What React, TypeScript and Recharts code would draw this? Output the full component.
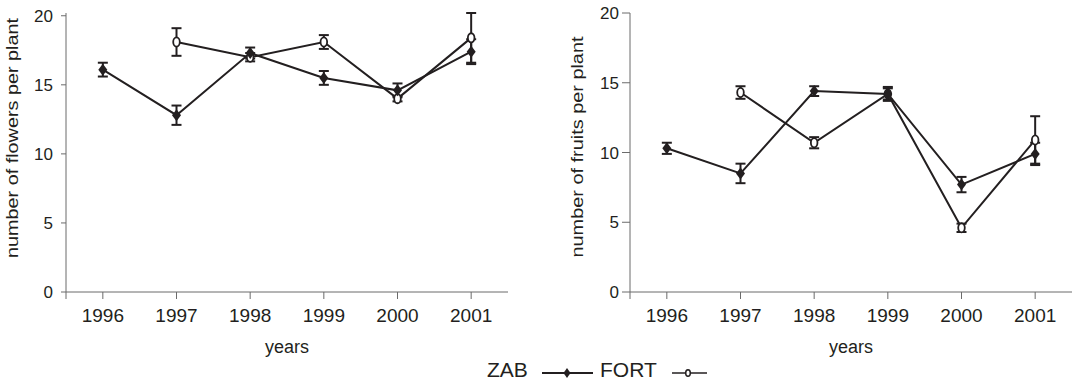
import { ErrorBar, Line, LineChart, XAxis, YAxis } from "recharts";

const years = [1996, 1997, 1998, 1999, 2000, 2001];
const xTicks = [1995.5, 1996, 1997, 1998, 1999, 2000, 2001];
const yTicks = [0, 5, 10, 15, 20];

const flowersZab = [16.1, 12.8, 17.3, 15.5, 14.6, 17.4];
const flowersZabErr = [0.5, 0.7, 0.4, 0.5, 0.5, 0.9];
const flowersFort = [null, 18.1, 17.0, 18.1, 14.0, 18.4];
const flowersFortErr = [null, 1.0, 0.3, 0.5, 0.2, 1.8];

const fruitsZab = [10.3, 8.5, 14.4, 14.2, 7.7, 9.9];
const fruitsZabErr = [0.4, 0.7, 0.35, 0.5, 0.55, 0.8];
const fruitsFort = [null, 14.3, 10.7, 14.2, 4.6, 10.9];
const fruitsFortErr = [null, 0.45, 0.4, 0.4, 0.3, 1.7];

const INK = "#231f20";
const AXIS = "#6b6b6b";

const buildRows = (zab: (number | null)[], zabErr: (number | null)[], fort: (number | null)[], fortErr: (number | null)[]) =>
  years.map((year, i) => ({ year, zab: zab[i], zabErr: zabErr[i], fort: fort[i], fortErr: fortErr[i] }));

const flowerRows = buildRows(flowersZab, flowersZabErr, flowersFort, flowersFortErr);
const fruitRows = buildRows(fruitsZab, fruitsZabErr, fruitsFort, fruitsFortErr);

function Diamond(props: any) {
  const { cx, cy, index } = props;
  if (cx == null || cy == null) return <g key={`d${index}`} />;
  return <path key={`d${index}`} d={`M${cx},${cy - 6}L${cx + 4.5},${cy}L${cx},${cy + 6}L${cx - 4.5},${cy}Z`} fill={INK} />;
}

function OpenCircle(props: any) {
  const { cx, cy, index } = props;
  if (cx == null || cy == null) return <g key={`c${index}`} />;
  return <ellipse key={`c${index}`} cx={cx} cy={cy} rx={3.3} ry={4.6} fill="#fff" stroke={INK} strokeWidth={1.8} />;
}

function YLabel({ x, y, text, length }: { x: number; y: number; text: string; length: number }) {
  return (
    <text
      x={x}
      y={y}
      dy="0.25em"
      transform={`rotate(-90 ${x} ${y})`}
      textAnchor="middle"
      fontSize={16}
      fill={INK}
      textLength={length}
      lengthAdjust="spacingAndGlyphs"
    >
      {text}
    </text>
  );
}

function Panel(props: {
  rows: any[];
  yAxisWidth: number;
  rightMargin: number;
  tickSize: number;
  tickMargin: number;
  label: string;
  labelX: number;
  labelY: number;
  labelLength: number;
}) {
  const { rows, yAxisWidth, rightMargin, tickSize, tickMargin, label, labelX, labelY, labelLength } = props;
  return (
    <LineChart width={545} height={381} data={rows} margin={{ top: 13, right: rightMargin, bottom: 0, left: 0 }}>
      <XAxis
        type="number"
        dataKey="year"
        domain={[1995.5, 2001.5]}
        ticks={xTicks}
        tickFormatter={(v: number) => (v === 1995.5 ? "" : String(v))}
        height={89}
        stroke={AXIS}
        tickSize={7}
        tickMargin={10}
        tick={{ fill: INK, fontSize: 19 }}
        label={{ value: "years", position: "insideBottom", offset: 28, fill: INK, fontSize: 18 }}
      />
      <YAxis
        domain={[0, 20]}
        ticks={yTicks}
        width={yAxisWidth}
        stroke={AXIS}
        tickSize={tickSize}
        tickMargin={tickMargin}
        tick={{ fill: INK, fontSize: 17 }}
        label={{ content: () => <YLabel x={labelX} y={labelY} text={label} length={labelLength} /> }}
      />
      {/* FORT first so the filled ZAB markers sit on top, as in the original */}
      <Line dataKey="fort" stroke={INK} strokeWidth={2} dot={OpenCircle} activeDot={false} isAnimationActive={false}>
        <ErrorBar dataKey="fortErr" width={5} strokeWidth={2} stroke={INK} />
      </Line>
      <Line dataKey="zab" stroke={INK} strokeWidth={2} dot={Diamond} activeDot={false} isAnimationActive={false}>
        <ErrorBar dataKey="zabErr" width={5} strokeWidth={2} stroke={INK} />
      </Line>
    </LineChart>
  );
}

function Legend() {
  return (
    <svg width={1090} height={381} style={{ position: "absolute", left: 0, top: 0, pointerEvents: "none" }}>
      <text x={487} y={377} fontSize={21} fill={INK}>ZAB</text>
      <line x1={542} y1={373} x2={593} y2={373} stroke={INK} strokeWidth={2} />
      <path d="M567,368L570.5,373L567,378L563.5,373Z" fill={INK} />
      <text x={600} y={377} fontSize={21} fill={INK}>FORT</text>
      <line x1={672} y1={373} x2={707} y2={373} stroke={INK} strokeWidth={1.6} />
      <ellipse cx={688} cy={373} rx={2.3} ry={3.3} fill="#fff" stroke={INK} strokeWidth={1.5} />
    </svg>
  );
}

export default function App() {
  return (
    <div
      style={{
        position: "fixed",
        left: 0,
        top: 0,
        width: 1090,
        height: 381,
        background: "#fff",
        fontFamily: "'Liberation Sans', Arial, Helvetica, sans-serif",
      }}
    >
      <div style={{ position: "absolute", left: 0, top: 0 }}>
        <Panel
          rows={flowerRows}
          yAxisWidth={66}
          rightMargin={37}
          tickSize={5}
          tickMargin={8}
          label="number of flowers per plant"
          labelX={14}
          labelY={138}
          labelLength={240}
        />
      </div>
      <div style={{ position: "absolute", left: 545, top: 0 }}>
        <Panel
          rows={fruitRows}
          yAxisWidth={85}
          rightMargin={18}
          tickSize={8}
          tickMargin={3}
          label="number of fruits per plant"
          labelX={34}
          labelY={147}
          labelLength={221}
        />
      </div>
      <Legend />
    </div>
  );
}
